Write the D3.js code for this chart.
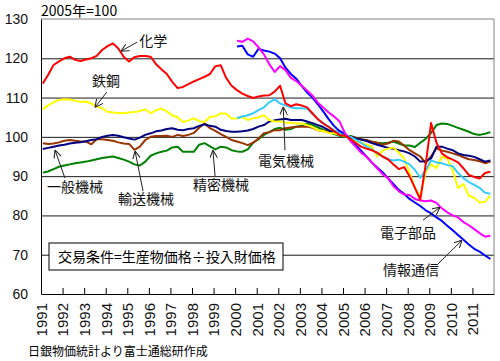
<!DOCTYPE html>
<html>
<head>
<meta charset="utf-8">
<script src="https://cdn.jsdelivr.net/npm/d3@7"></script>
<style>
  body { margin: 0; background: #fff; }
  text { font-family: "Liberation Sans", Arial, "Noto Sans CJK JP", sans-serif; }
  .jp { font-family: "Noto Sans CJK JP", sans-serif; }
</style>
</head>
<body>
<div id="chart"></div>
<script>
// quarterly readings, 2005 = 100
const years = [1991, 1992, 1993, 1994, 1995, 1996, 1997, 1998, 1999, 2000, 2001,
  2002, 2003, 2004, 2005, 2006, 2007, 2008, 2009, 2010, 2011];
const yTicks = [60, 70, 80, 90, 100, 110, 120, 130];

const chemical = [
  113.6, 115.8, 118.3, 119.2, 120.0, 120.4, 119.6, 119.3, 119.7, 120.0, 120.6, 122.1,
  123.1, 123.8, 122.5, 120.4, 119.2, 120.3, 120.6, 120.6, 120.4, 118.5, 117.2, 116.0,
  114.0, 112.4, 112.7, 113.4, 114.1, 114.7, 115.3, 116.0, 118.0, 118.2, 115.0, 113.0,
  111.9, 111.0, 110.4, 109.9, 110.3, 110.5, 110.6, 111.5, 113.0, 108.5, 107.8, 108.3,
  108.0, 107.5, 106.0, 104.5, 103.4, 102.5, 101.5, 100.5, 100.3, 99.5, 98.5, 97.5,
  97.0, 96.6, 96.0, 95.0, 94.3, 93.0, 91.8, 92.3, 90.0, 87.0, 84.0, 93.0,
  103.5, 98.5, 95.8, 94.8, 94.2, 93.5, 92.0, 90.3, 89.8, 89.4, 90.8, 91.1];
const steel = [
  107.0, 108.0, 108.8, 109.4, 109.6, 109.5, 109.2, 108.9, 109.0, 108.5, 107.7, 107.3,
  106.4, 106.2, 106.1, 106.0, 106.2, 106.3, 106.6, 107.0, 106.0, 106.8, 107.2, 106.5,
  105.5, 105.0, 103.8, 104.2, 104.7, 104.0, 103.8, 105.1, 105.2, 106.0, 105.9, 104.7,
  104.7, 105.0, 104.3, 104.7, 105.0, 105.5, 104.3, 103.9, 103.9, 103.6, 103.6, 103.4,
  103.4, 103.0, 102.5, 101.7, 101.5, 101.0, 100.9, 100.5, 100.2, 100.0, 99.0, 98.5,
  98.0, 97.5, 95.0, 96.5, 97.0, 97.3, 96.0, 94.5, 91.0, 87.0, 85.0, 91.0,
  93.0, 92.0, 95.0, 94.5, 91.5, 87.0, 88.0, 85.0, 84.5, 83.3, 83.5, 85.0];
const generalMachinery = [
  96.9, 97.2, 97.5, 97.8, 98.0, 98.3, 98.5, 98.6, 98.9, 99.2, 99.4, 100.0,
  100.3, 100.5, 100.3, 99.9, 99.6, 99.3, 99.8, 100.5, 100.9, 101.4, 101.6, 102.0,
  102.2, 101.8, 101.7, 102.0, 102.2, 102.8, 103.2, 102.8, 102.6, 101.8, 101.5, 101.3,
  101.3, 101.4, 101.6, 102.0, 102.6, 103.0, 103.9, 104.2, 104.4, 104.6, 104.3, 104.3,
  104.3, 103.9, 103.5, 103.0, 102.5, 101.7, 101.2, 100.7, 100.3, 100.0, 99.6, 99.3,
  99.0, 98.4, 98.0, 97.6, 97.2, 97.0, 96.6, 96.3, 95.8, 95.0, 93.7, 93.8,
  94.5, 97.5, 97.5, 97.0, 96.6, 95.8, 95.4, 95.2, 94.9, 94.3, 93.7, 94.0];
const transport = [
  98.4, 98.2, 98.3, 98.6, 99.0, 99.2, 99.0, 98.8, 98.8, 98.1, 99.4, 99.4,
  99.2, 99.0, 98.6, 98.3, 98.2, 96.7, 97.5, 99.2, 100.0, 100.2, 100.2, 100.3,
  100.0, 100.5, 100.2, 100.5, 101.0, 102.3, 103.4, 102.2, 101.5, 100.7, 100.0, 99.2,
  98.8, 98.4, 97.9, 98.5, 99.6, 100.9, 101.2, 101.7, 101.7, 102.2, 102.4, 102.6,
  102.6, 102.6, 102.3, 101.7, 101.5, 101.3, 101.0, 100.6, 100.2, 100.0, 99.8, 99.4,
  99.2, 98.8, 98.5, 98.0, 98.3, 99.0, 98.8, 97.8, 96.6, 95.8, 95.0, 93.3,
  95.0, 97.1, 96.5, 96.2, 95.8, 95.4, 94.8, 94.3, 94.1, 93.8, 93.3, 93.7];
const precision = [
  90.9, 91.2, 91.8, 92.4, 92.7, 93.0, 93.3, 93.5, 93.7, 94.0, 94.3, 94.6,
  94.8, 95.0, 94.6, 94.2, 93.7, 93.0, 92.7, 93.7, 95.2, 95.8, 96.2, 96.5,
  97.3, 97.5, 96.2, 96.2, 96.2, 98.0, 98.4, 97.6, 96.8, 97.5, 97.3, 96.6,
  96.3, 96.2, 96.8, 98.5, 99.4, 100.5, 101.2, 102.0, 102.3, 101.8, 102.0, 102.6,
  102.8, 103.4, 103.0, 102.4, 101.8, 101.3, 100.7, 100.3, 100.0, 100.3, 99.8, 99.4,
  99.0, 98.7, 98.5, 98.4, 98.5, 98.8, 98.3, 97.8, 97.8, 97.4, 98.5, 99.5,
  101.0, 103.0, 103.4, 103.3, 102.8, 102.3, 101.8, 101.3, 100.7, 100.5, 100.8, 101.2];
const electrical = [
  104.8, 105.2, 105.5, 106.0, 106.8, 107.5, 108.8, 109.6, 108.5, 108.0, 107.5, 107.3,
  107.3, 107.2, 105.8, 104.5, 103.5, 102.6, 101.7, 101.0, 100.5, 100.0, 99.3, 98.5,
  97.5, 96.8, 95.8, 95.0, 94.3, 94.0, 94.2, 93.7, 93.0, 91.6, 89.6, 91.5,
  94.0, 93.5, 93.3, 92.8, 92.5, 90.8, 89.5, 88.5, 87.8, 87.0, 85.8, 85.5];
const electronic = [
  124.5, 124.2, 125.0, 124.3, 122.8, 121.0, 118.5, 116.5, 118.0, 117.0, 115.0, 114.2,
  113.0, 111.8, 110.5, 108.7, 107.5, 106.2, 105.2, 104.0, 101.0, 99.0, 97.5, 96.0,
  95.0, 93.5, 92.0, 90.5, 89.5, 87.5, 86.2, 85.3, 85.2, 84.2, 83.8, 83.6,
  83.8, 83.2, 81.8, 80.8, 80.0, 79.5, 78.3, 77.5, 76.5, 75.5, 74.6, 74.8];
const infoComm = [
  123.0, 123.2, 121.0, 120.4, 122.4, 122.0, 121.7, 121.2, 120.0, 117.6, 116.0, 114.8,
  113.0, 111.3, 110.0, 108.3, 106.5, 104.5, 102.8, 101.5, 100.8, 99.5, 98.0, 96.5,
  95.0, 93.5, 92.2, 91.0, 89.5, 88.0, 86.5, 85.5, 84.2, 83.3, 82.4, 81.3,
  80.5, 79.5, 78.6, 77.4, 76.2, 75.0, 73.8, 72.6, 71.5, 70.8, 69.8, 68.9];

let series = [
  {values: precision, start: 1991, color: '#008000'},
  {values: transport, start: 1991, color: '#993300'},
  {values: generalMachinery, start: 1991, color: '#000080'},
  {values: steel, start: 1991, color: '#ffff00'},
  {values: electrical, start: 2000, color: '#33ccff'},
  {values: infoComm, start: 2000, color: '#0000ff'},
  {values: electronic, start: 2000, color: '#ff00ff'},
  {values: chemical, start: 1991, color: '#ff0000'}
];

// label, text position, arrow tail, arrow head (year, index value)
let notes = [
  {text: '化学', at: [1995.55, 123.1], from: [1995.45, 124.1], to: [1994.71, 121.8]},
  {text: '鉄鋼', at: [1993.36, 112.9], from: [1994.05, 111.4], to: [1993.5, 107.5]},
  {text: '一般機械', at: [1991.28, 86.0], from: [1992.11, 89.5], to: [1991.65, 96.6]},
  {text: '輸送機械', at: [1994.57, 82.9], from: [1995.73, 86.2], to: [1995.36, 96.4]},
  {text: '精密機械', at: [1998.05, 86.5], from: [1999.07, 90.0], to: [1998.97, 96.6]},
  {text: '電気機械', at: [2001.06, 92.6], from: [2002.31, 96.6], to: [2002.23, 107.6]},
  {text: '電子部品', at: [2006.72, 74.2], from: [2008.71, 78.8], to: [2009.5, 82.1]},
  {text: '情報通信', at: [2006.86, 64.8], from: [2009.36, 67.4], to: [2010.52, 73.7]}
];

let w = 500;
let h = 361;
let padLeft = 41, padRight = 494, padTop = 19, padBottom = 294;

let svg = d3.select('#chart').
append('svg').
attr('width', w).
attr('height', h);

let x = d3.scaleLinear().domain([1991, 2012]).range([padLeft, padRight]);
let y = d3.scaleLinear().domain([60, 130]).range([padBottom, padTop]);

// gridlines
svg.append('g').
attr('transform', 'translate(' + padLeft + ',0)').
call(d3.axisLeft(y).tickValues(yTicks.slice(1, -1)).tickSize(-(padRight - padLeft)).tickFormat('')).
call(g => g.select('.domain').remove()).
selectAll('line').attr('stroke', '#1a1a1a');

// frame top / right
svg.append('path').
attr('d', 'M' + padLeft + ',' + padTop + 'H' + padRight + 'V' + padBottom).
attr('fill', 'none').
attr('stroke', '#808080');

// y axis
let yAxis = svg.append('g').
attr('transform', 'translate(' + padLeft + ',0)').
call(d3.axisLeft(y).tickValues(yTicks).tickSizeInner(0).tickSizeOuter(0).tickPadding(13));
yAxis.select('.domain').attr('stroke', '#000');
yAxis.selectAll('text').style('font-size', '14px').attr('fill', '#111');

// x axis
let xAxis = svg.append('g').
attr('transform', 'translate(0,' + padBottom + ')').
call(d3.axisBottom(x).tickValues(years).tickFormat(d3.format('d')).tickSizeInner(-6).tickSizeOuter(0));
xAxis.select('.domain').attr('stroke', '#000');
xAxis.selectAll('line').attr('stroke', '#000');
xAxis.selectAll('text').
attr('transform', 'rotate(-90)').
attr('x', -9).
attr('y', 0).
attr('dy', '0.36em').
style('text-anchor', 'end').
style('font-size', '15px').
attr('fill', '#111');

// legend box
svg.append('rect').
attr('x', 49).attr('y', 243).
attr('width', 234).attr('height', 27).
attr('fill', '#fff').
attr('stroke', '#000');
svg.append('text').
attr('class', 'jp').
attr('x', 58).attr('y', 262).
style('font-size', '14px').
text('交易条件=生産物価格÷投入財価格');

// series
let line = d3.line().
x(d => x(d[0])).
y(d => y(d[1]));

svg.selectAll('path.series').
data(series).
enter().
append('path').
attr('class', 'series').
attr('d', s => line(s.values.map((v, i) => [s.start + (3 * i + 1) / 12, v]))).
attr('fill', 'none').
attr('stroke', s => s.color).
attr('stroke-width', 2).
attr('stroke-linejoin', 'round');

// arrows
svg.append('defs').
append('marker').
attr('id', 'head').
attr('viewBox', '0 0 10 10').
attr('refX', 10).attr('refY', 5).
attr('markerWidth', 8).attr('markerHeight', 8).
attr('markerUnits', 'userSpaceOnUse').
attr('orient', 'auto').
append('path').
attr('d', 'M0,0L10,5L0,10').
attr('fill', 'none').
attr('stroke', '#222').
attr('stroke-width', 1.3);

svg.selectAll('line.arrow').
data(notes).
enter().
append('line').
attr('class', 'arrow').
attr('x1', d => x(d.from[0])).attr('y1', d => y(d.from[1])).
attr('x2', d => x(d.to[0])).attr('y2', d => y(d.to[1])).
attr('stroke', '#222').
attr('stroke-width', 1).
attr('marker-end', 'url(#head)');

svg.selectAll('text.note').
data(notes).
enter().
append('text').
attr('class', 'note jp').
attr('x', d => x(d.at[0])).
attr('y', d => y(d.at[1])).
style('font-size', '14px').
attr('fill', '#111').
text(d => d.text);

// titles
svg.append('text').
attr('class', 'jp').
attr('x', 41).attr('y', 16).
style('font-size', '14px').
text('2005年=100');

svg.append('text').
attr('class', 'jp').
attr('x', 28).attr('y', 356).
style('font-size', '12px').
text('日銀物価統計より富士通総研作成');
</script>
</body>
</html>
